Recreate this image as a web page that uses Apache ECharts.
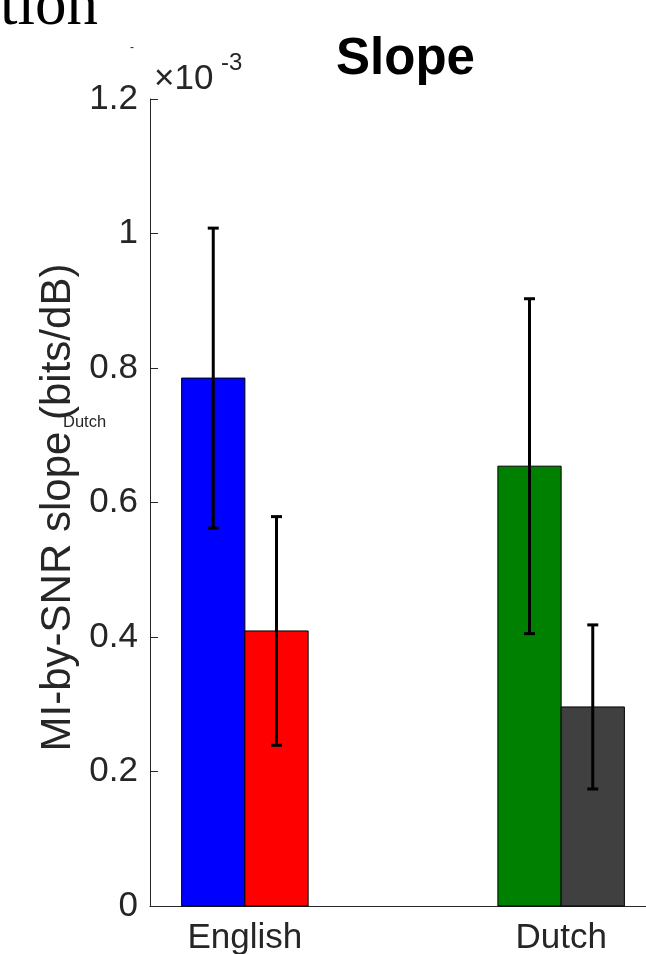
<!DOCTYPE html>
<html>
<head>
<meta charset="utf-8">
<script src="https://cdn.jsdelivr.net/npm/echarts@6/dist/echarts.min.js"></script>
<style>
html,body{margin:0;padding:0;background:#fff;}
#chart{width:646px;height:954px;}
</style>
</head>
<body>
<div id="chart"></div>
<script>
// ---- data (values in units of 1e-3 bits/dB) ----
const categories = ['English', 'Dutch'];
const categoryPositions = [1, 2];
const firstBarValues = [0.785, 0.654];
const firstBarErrors = [0.223, 0.249];
const secondBarValues = [0.409, 0.296];
const secondBarErrors = [0.170, 0.122];
const firstBarColors = ['#0000ff', '#008000'];
const secondBarColors = ['#ff0000', '#404040'];
const yTickValues = [0, 0.2, 0.4, 0.6, 0.8, 1, 1.2];

// ---- layout constants ----
const barHalf = 0.1;
const offsets = [-0.1, 0.1];
const textColor = '#262626';
const FONT = '"Liberation Sans", Arial, Helvetica, sans-serif';

function buildData(values, errors, offset) {
  return values.map((v, i) => [categoryPositions[i] + offset, v, errors[i]]);
}

function makeRender(colors) {
  return function (params, api) {
    const x = api.value(0), v = api.value(1), e = api.value(2);
    const tl = api.coord([x - barHalf, v]);
    const br = api.coord([x + barHalf, 0]);
    const top = api.coord([x, v + e]);
    const bot = api.coord([x, v - e]);
    const cap = 5.5;
    const errStyle = { stroke: '#000', lineWidth: 3 };
    return {
      type: 'group',
      children: [
        { type: 'rect',
          shape: { x: tl[0], y: tl[1], width: br[0] - tl[0], height: br[1] - tl[1] },
          style: { fill: colors[params.dataIndex], stroke: '#000', lineWidth: 1 } },
        { type: 'line', shape: { x1: top[0], y1: top[1], x2: bot[0], y2: bot[1] }, style: errStyle },
        { type: 'line', shape: { x1: top[0] - cap, y1: top[1], x2: top[0] + cap, y2: top[1] }, style: errStyle },
        { type: 'line', shape: { x1: bot[0] - cap, y1: bot[1], x2: bot[0] + cap, y2: bot[1] }, style: errStyle }
      ]
    };
  };
}

const chart = echarts.init(document.getElementById('chart'), null, { renderer: 'canvas' });
chart.setOption({
  animation: false,
  backgroundColor: '#fff',
  grid: { left: 150, top: 99, width: 506, height: 807, containLabel: false, outerBoundsMode: 'none' },
  xAxis: {
    type: 'value', min: 0.7, max: 2.3,
    axisLine: { show: true, onZero: false, lineStyle: { color: textColor, width: 1 } },
    axisTick: { show: false },
    splitLine: { show: false },
    axisLabel: {
      customValues: categoryPositions,
      formatter: (v) => categories[categoryPositions.indexOf(v)] || '',
      color: textColor, fontSize: 35, fontFamily: FONT, margin: 15
    }
  },
  yAxis: {
    type: 'value', min: 0, max: 1.2, interval: 0.2,
    axisLine: { show: true, lineStyle: { color: textColor, width: 1 } },
    axisTick: { show: true, inside: true, length: 8, lineStyle: { color: textColor } },
    splitLine: { show: false },
    axisLabel: {
      customValues: yTickValues,
      formatter: (v) => String(Math.round(v * 10) / 10),
      color: textColor, fontSize: 35, fontFamily: FONT, margin: 12
    }
  },
  series: [
    { type: 'custom', name: 'first', renderItem: makeRender(firstBarColors),
      data: buildData(firstBarValues, firstBarErrors, offsets[0]), clip: false },
    { type: 'custom', name: 'second', renderItem: makeRender(secondBarColors),
      data: buildData(secondBarValues, secondBarErrors, offsets[1]), clip: false }
  ],
  graphic: [
    { type: 'text', style: { x: 0, y: 7, text: 'tion', fill: '#000',
      font: '63px "Liberation Serif", "Times New Roman", serif', align: 'left', verticalAlign: 'middle' } },
    { type: 'text', style: { x: 132, y: 48, text: '-', fill: textColor,
      font: '12px ' + FONT, align: 'center', verticalAlign: 'middle' } },
    { type: 'text', style: { x: 405.5, y: 60, text: 'Slope', fill: '#000',
      font: 'bold 51px ' + FONT, align: 'center', verticalAlign: 'middle' } },
    { type: 'text', style: { x: 154, y: 79, text: '×10', fill: textColor,
      font: '35px ' + FONT, align: 'left', verticalAlign: 'middle' } },
    { type: 'text', style: { x: 221, y: 63.5, text: '-3', fill: textColor,
      font: '24px ' + FONT, align: 'left', verticalAlign: 'middle' } },
    { type: 'text', x: 58.5, y: 507.5, rotation: Math.PI / 2,
      style: { x: 0, y: 0, text: 'MI-by-SNR slope (bits/dB)', fill: textColor,
        font: '42px ' + FONT, align: 'center', verticalAlign: 'middle' } },
    { type: 'text', style: { x: 63, y: 422, text: 'Dutch', fill: textColor,
      font: '16.5px ' + FONT, align: 'left', verticalAlign: 'middle' } }
  ]
});
</script>
</body>
</html>
